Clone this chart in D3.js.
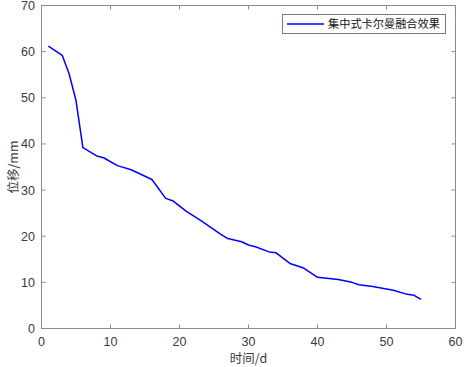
<!DOCTYPE html>
<html>
<head>
<meta charset="utf-8">
<script src="https://cdn.jsdelivr.net/npm/d3@7"></script>
<style>
  body { margin: 0; background: #fff; }
  text { font-family: "Liberation Sans", Arial, sans-serif; }
</style>
</head>
<body>
<svg id="chart" width="464" height="367"></svg>
<script>
// time in days, displacement in mm
var days = [1, 3, 4, 5, 6, 8, 9, 11, 13, 16, 18, 19, 21, 23, 26, 27, 29, 30, 31, 33, 34, 36, 38, 40, 42, 43, 45, 46, 48, 51, 53, 54, 55];
var disp = [61.2, 59.2, 55.2, 49.4, 39.2, 37.4, 37.0, 35.3, 34.4, 32.3, 28.2, 27.7, 25.4, 23.5, 20.4, 19.5, 18.8, 18.1, 17.7, 16.6, 16.4, 14.1, 13.1, 11.1, 10.8, 10.6, 10.0, 9.5, 9.1, 8.3, 7.4, 7.2, 6.3];
var xTicks = [0, 10, 20, 30, 40, 50, 60];
var yTicks = [0, 10, 20, 30, 40, 50, 60, 70];
var seriesName = "集中式卡尔曼融合效果";

var svg = d3.select("#chart");
var pLeft = 41.5, pRight = 455.5, pTop = 5.5, pBottom = 328.5;
var axisColor = "#8a8a8a", textColor = "#3a3a3a";

var x = d3.scaleLinear().domain([0, 60]).range([pLeft, pRight]);
var y = d3.scaleLinear().domain([0, 70]).range([pBottom, pTop]);

var g = svg.append("g");

// box
g.append("rect")
    .attr("x", pLeft).attr("y", pTop)
    .attr("width", pRight - pLeft).attr("height", pBottom - pTop)
    .attr("fill", "none").attr("stroke", axisColor).attr("stroke-width", 1);

// ticks, inward, mirrored on top/right
xTicks.forEach(function(t){
    g.append("line").attr("x1", x(t)).attr("x2", x(t))
        .attr("y1", pBottom).attr("y2", pBottom - 4).attr("stroke", axisColor);
    g.append("line").attr("x1", x(t)).attr("x2", x(t))
        .attr("y1", pTop).attr("y2", pTop + 4).attr("stroke", axisColor);
    g.append("text").attr("x", x(t)).attr("y", 346)
        .attr("text-anchor", "middle").attr("font-size", 12.5)
        .attr("fill", textColor).text(t);
});
yTicks.forEach(function(t){
    g.append("line").attr("x1", pLeft).attr("x2", pLeft + 4)
        .attr("y1", y(t)).attr("y2", y(t)).attr("stroke", axisColor);
    g.append("line").attr("x1", pRight).attr("x2", pRight - 4)
        .attr("y1", y(t)).attr("y2", y(t)).attr("stroke", axisColor);
    g.append("text").attr("x", 35).attr("y", y(t) + 4.5)
        .attr("text-anchor", "end").attr("font-size", 12.5)
        .attr("fill", textColor).text(t);
});

// axis labels
g.append("text").attr("x", (pLeft + pRight) / 2).attr("y", 363)
    .attr("text-anchor", "middle").attr("font-size", 12.5).attr("fill", textColor)
    .style("font-family", "'Noto Sans CJK SC', sans-serif")
    .text("时间/d");
g.append("text")
    .attr("transform", "translate(18," + ((pTop + pBottom) / 2) + ") rotate(-90)")
    .attr("text-anchor", "middle").attr("font-size", 12.5).attr("fill", textColor)
    .style("font-family", "'Noto Sans CJK SC', sans-serif")
    .text("位移/mm");

// series
var pts = days.map(function(d, i){ return [d, disp[i]]; });
var line = d3.line().x(function(d){ return x(d[0]); }).y(function(d){ return y(d[1]); });
g.append("path").datum(pts)
    .attr("d", line)
    .attr("fill", "none").attr("stroke", "#0000ff").attr("stroke-width", 1.5)
    .attr("stroke-linejoin", "round");

// legend
var lg = g.append("g");
lg.append("rect").attr("x", 282.5).attr("y", 14.5).attr("width", 163).attr("height", 19)
    .attr("fill", "#fff").attr("stroke", "#7a7a7a");
lg.append("line").attr("x1", 287).attr("x2", 324).attr("y1", 24).attr("y2", 24)
    .attr("stroke", "#0000ff").attr("stroke-width", 1.5);
lg.append("text").attr("x", 328).attr("y", 28).attr("font-size", 11.2).attr("fill", "#111")
    .style("font-family", "'Noto Sans CJK SC', sans-serif")
    .text(seriesName);
</script>
</body>
</html>
